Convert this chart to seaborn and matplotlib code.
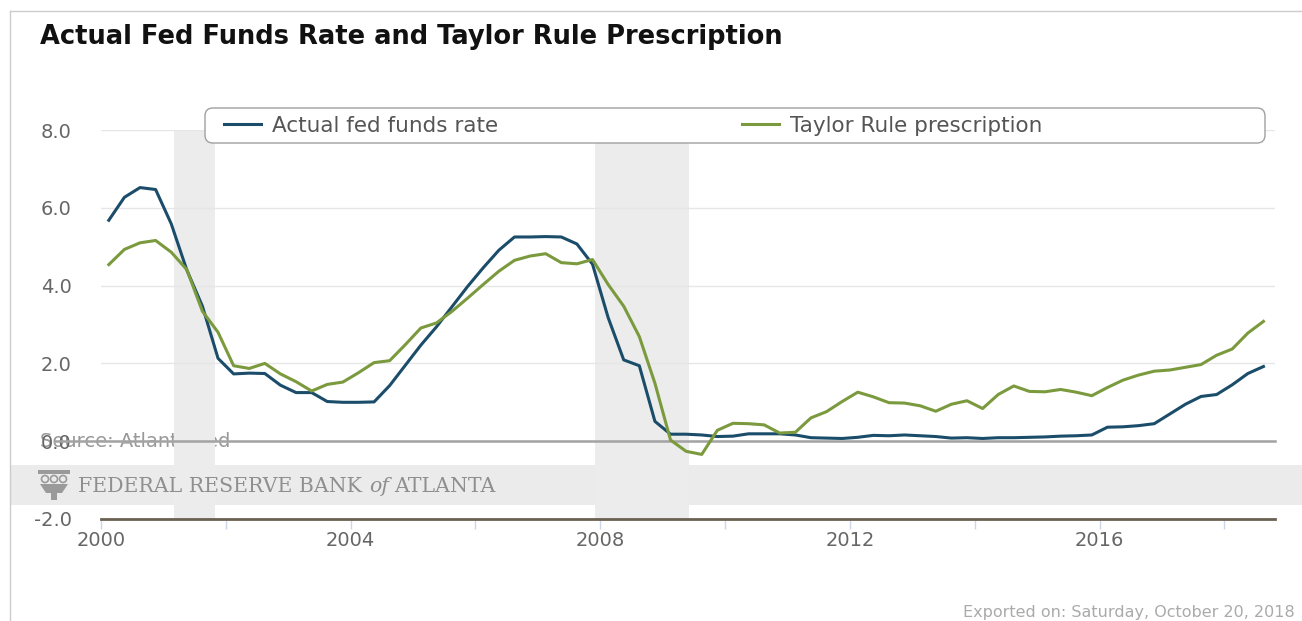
import numpy as np
import pandas as pd
import seaborn as sns
import matplotlib.pyplot as plt
from matplotlib.patches import FancyBboxPatch, Rectangle, Polygon, Circle
from matplotlib.lines import Line2D

# Quarterly data, 2000Q1 - 2018Q3
quarters = pd.period_range("2000Q1", "2018Q3", freq="Q")

fed_funds = [
    5.68, 6.27, 6.52, 6.47,
    5.59, 4.40, 3.47, 2.13,
    1.73, 1.75, 1.74, 1.44,
    1.25, 1.25, 1.02, 1.00,
    1.00, 1.01, 1.43, 1.95,
    2.47, 2.94, 3.46, 3.98,
    4.46, 4.91, 5.25, 5.25,
    5.26, 5.25, 5.07, 4.55,
    3.18, 2.09, 1.94, 0.51,
    0.18, 0.18, 0.16, 0.12,
    0.13, 0.19, 0.19, 0.19,
    0.16, 0.09, 0.08, 0.07,
    0.10, 0.15, 0.14, 0.16,
    0.14, 0.12, 0.08, 0.09,
    0.07, 0.09, 0.09, 0.10,
    0.11, 0.13, 0.14, 0.16,
    0.36, 0.37, 0.40, 0.45,
    0.70, 0.95, 1.15, 1.20,
    1.45, 1.74, 1.92,
]

taylor_rule = [
    4.54, 4.93, 5.10, 5.16,
    4.86, 4.41, 3.34, 2.80,
    1.94, 1.87, 2.00, 1.73,
    1.53, 1.29, 1.46, 1.52,
    1.76, 2.02, 2.07, 2.48,
    2.91, 3.04, 3.34, 3.68,
    4.03, 4.37, 4.65, 4.76,
    4.82, 4.59, 4.56, 4.67,
    4.03, 3.47, 2.69, 1.49,
    0.03, -0.26, -0.34, 0.28,
    0.46, 0.45, 0.42, 0.21,
    0.23, 0.60, 0.76, 1.02,
    1.26, 1.14, 0.99, 0.98,
    0.91, 0.77, 0.95, 1.04,
    0.84, 1.20, 1.42, 1.28,
    1.27, 1.33, 1.26, 1.17,
    1.38, 1.57, 1.70, 1.80,
    1.83, 1.90, 1.97, 2.21,
    2.37, 2.78, 3.08,
]

series_names = ["Actual fed funds rate", "Taylor Rule prescription"]
colors = ["#1b4d6b", "#7b9a3e"]

recessions = [(2001.17, 2001.83), (2007.92, 2009.42)]
y_ticks = [-2, 0, 2, 4, 6, 8]
x_ticks = list(range(2000, 2019, 2))
x_labels = [str(y) if y % 4 == 0 else "" for y in x_ticks]

# middle of each quarter as decimal year
t = np.asarray(quarters.year + (quarters.quarter - 1) / 4 + 0.125, dtype=float)

df = pd.DataFrame({
    "date": np.concatenate([t, t]),
    "rate": fed_funds + taylor_rule,
    "series": [series_names[0]] * len(t) + [series_names[1]] * len(t),
})

W, H = 1302, 621
fig = plt.figure(figsize=(W / 100, H / 100), dpi=100)
ax = fig.add_axes([101 / W, 1 - 519 / H, 1174 / W, 389 / H])
ax.set_facecolor("none")

sns.lineplot(data=df, x="date", y="rate", hue="series", palette=colors,
             linewidth=2.2, ax=ax, zorder=3)

ax.set_xlim(2000, 2018.81)
ax.set_ylim(-2, 8)
ax.set_xlabel("")
ax.set_ylabel("")

for s in ["left", "right", "top"]:
    ax.spines[s].set_visible(False)
ax.spines["bottom"].set_color("#6b6152")
ax.spines["bottom"].set_linewidth(2.0)

ax.set_yticks(y_ticks)
ax.set_yticklabels([f"{v:.1f}" for v in y_ticks])
ax.tick_params(axis="y", length=0, pad=21, labelsize=14, labelcolor="#666666")
ax.set_xticks(x_ticks)
ax.set_xticklabels(x_labels)
ax.tick_params(axis="x", length=7, width=1, color="#ccd6eb", pad=1.5,
               labelsize=14, labelcolor="#666666")
ax.yaxis.grid(True, color="#e6e6e6", lw=1)
ax.xaxis.grid(False)
ax.set_axisbelow(True)

# recession shading
for a, b in recessions:
    ax.axvspan(a, b, color="#ececec", lw=0, zorder=0.4)

# zero line
ax.axhline(0, xmin=(55 - 101) / 1174, xmax=1, color="#a3a3a3", lw=1.8,
           zorder=2, clip_on=False)

# half hidden source credit
ax.text(-61 / 1174, 0, "Source: Atlanta Fed", transform=ax.get_yaxis_transform(),
        ha="left", va="center", fontsize=14, color="#999999", zorder=0.3)

# legend
leg = ax.get_legend()
handles = leg.legend_handles
labels = [tx.get_text() for tx in leg.get_texts()]
leg.remove()
fig.legend(handles, labels, loc="center left", bbox_to_anchor=(213 / W, 1 - 126 / H),
           ncol=2, frameon=False, fontsize=15.5, handlelength=1.75, handletextpad=0.5,
           columnspacing=11.3, borderpad=0, labelcolor="#555555")
box = FancyBboxPatch((2.05, (H - 143) / 100), 10.6, 0.35,
                     boxstyle="round,pad=0,rounding_size=0.08",
                     transform=fig.dpi_scale_trans, facecolor="white",
                     edgecolor="#a0a0a0", lw=1, zorder=2)
fig.add_artist(box)

# title
fig.text(40 / W, 1 - 37 / H, "Actual Fed Funds Rate and Taylor Rule Prescription",
         fontsize=18.5, weight="bold", va="center", ha="left", color="#111111")

# Atlanta Fed watermark band
fig.add_artist(Rectangle((10 / W, 1 - 505 / H), 1 - 10 / W, 40 / H,
                         transform=fig.transFigure, facecolor="#ebebeb", lw=0, zorder=-1))
logo_c = "#9a9a9a"
fig.add_artist(Rectangle((38 / W, 1 - 474 / H), 32 / W, 4 / H, transform=fig.transFigure,
                         facecolor=logo_c, lw=0))
for cx in [45, 54, 63]:
    fig.add_artist(Circle((cx / 100, (H - 479) / 100), 0.035, transform=fig.dpi_scale_trans,
                          facecolor="none", edgecolor=logo_c, lw=1.2))
fig.add_artist(Polygon([(0.40, (H - 484) / 100), (0.68, (H - 484) / 100),
                        (0.62, (H - 493) / 100), (0.46, (H - 493) / 100)],
                       transform=fig.dpi_scale_trans, facecolor=logo_c, lw=0))
fig.add_artist(Rectangle((0.51, (H - 500) / 100), 0.06, 0.07,
                         transform=fig.dpi_scale_trans, facecolor=logo_c, lw=0))

frb_kw = dict(fontsize=14.8, color="#8f8f8f", va="center", family="DejaVu Serif")
t1 = fig.text(78 / W, 1 - 487 / H, "FEDERAL RESERVE BANK", **frb_kw)
renderer = fig.canvas.get_renderer()
x1 = t1.get_window_extent(renderer).x1
t2 = fig.text((x1 + 7) / W, 1 - 487 / H, "of", style="italic", **frb_kw)
x2 = t2.get_window_extent(renderer).x1
fig.text((x2 + 5) / W, 1 - 487 / H, "ATLANTA", **frb_kw)

# container frame
fig.add_artist(Line2D([10 / W, 1], [1 - 11 / H, 1 - 11 / H], transform=fig.transFigure,
                      color="#cccccc", lw=1))
fig.add_artist(Line2D([10 / W, 10 / W], [0, 1 - 11 / H], transform=fig.transFigure,
                      color="#cccccc", lw=1))

fig.text(1295 / W, 1 - 613 / H, "Exported on: Saturday, October 20, 2018",
         ha="right", va="center", fontsize=11.5, color="#aaaaaa")

fig.savefig("out.png", dpi=100)
